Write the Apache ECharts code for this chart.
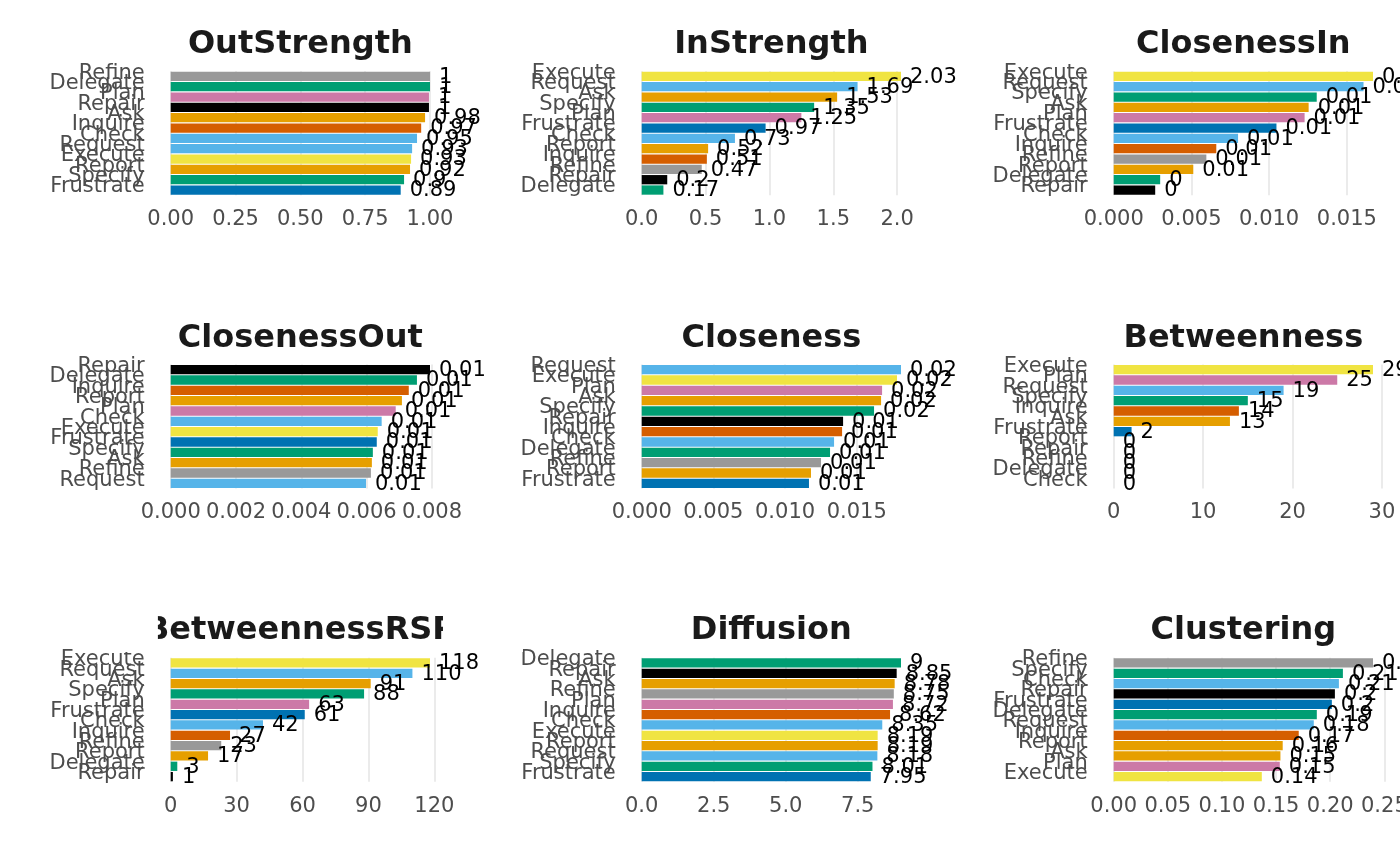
<!DOCTYPE html>
<html>
<head>
<meta charset="utf-8">
<script src="https://cdn.jsdelivr.net/npm/echarts@6/dist/echarts.min.js"></script>
<style>
html,body{margin:0;padding:0;background:#fff;}
#chart{width:1400px;height:866px;}
</style>
</head>
<body>
<div id="chart"></div>
<script>
// ---------- data ----------
const panelTitles = ['OutStrength','InStrength','ClosenessIn','ClosenessOut','Closeness','Betweenness','BetweennessRSP','Diffusion','Clustering'];

const outStrengthCats = ['Refine','Delegate','Plan','Repair','Ask','Inquire','Check','Request','Execute','Report','Specify','Frustrate'];
const outStrengthVals = [1.00,1.00,0.996,0.996,0.981,0.966,0.950,0.931,0.927,0.923,0.900,0.887];

const inStrengthCats = ['Execute','Request','Ask','Specify','Plan','Frustrate','Check','Report','Inquire','Refine','Repair','Delegate'];
const inStrengthVals = [2.03,1.69,1.53,1.35,1.25,0.97,0.73,0.52,0.51,0.47,0.20,0.17];

const closenessInCats = ['Execute','Request','Specify','Ask','Plan','Frustrate','Check','Inquire','Refine','Report','Delegate','Repair'];
const closenessInVals = [0.01668,0.01607,0.01306,0.01254,0.01228,0.01047,0.00800,0.00660,0.00596,0.00512,0.00299,0.00267];

const closenessOutCats = ['Repair','Delegate','Inquire','Report','Plan','Check','Execute','Frustrate','Specify','Ask','Refine','Request'];
const closenessOutVals = [0.00794,0.00754,0.00729,0.00708,0.00689,0.00646,0.00634,0.00631,0.00619,0.00616,0.00613,0.00598];

const closenessCats = ['Request','Execute','Plan','Ask','Specify','Repair','Inquire','Check','Delegate','Refine','Report','Frustrate'];
const closenessVals = [0.01809,0.01781,0.01677,0.01670,0.01621,0.01405,0.01398,0.01342,0.01314,0.01251,0.01181,0.01167];

const betweennessCats = ['Execute','Plan','Request','Specify','Inquire','Ask','Frustrate','Report','Repair','Refine','Delegate','Check'];
const betweennessVals = [29,25,19,15,14,13,2,0,0,0,0,0];

const betweennessRSPCats = ['Execute','Request','Ask','Specify','Plan','Frustrate','Check','Inquire','Refine','Report','Delegate','Repair'];
const betweennessRSPVals = [118,110,91,88,63,61,42,27,23,17,3,1];

const diffusionCats = ['Delegate','Repair','Ask','Refine','Plan','Inquire','Check','Execute','Report','Request','Specify','Frustrate'];
const diffusionVals = [9.00,8.85,8.78,8.75,8.72,8.62,8.35,8.19,8.19,8.18,8.01,7.95];

const clusteringCats = ['Refine','Specify','Check','Repair','Frustrate','Delegate','Request','Inquire','Report','Ask','Plan','Execute'];
const clusteringVals = [0.2395,0.2117,0.2080,0.2043,0.2015,0.1876,0.1848,0.1709,0.1561,0.1540,0.1534,0.1368];

// tick labels (step and decimals per panel)
const tickStep = [0.25, 0.5, 0.005, 0.002, 0.005, 10, 30, 2.5, 0.05];
const tickDecimals = [2, 1, 3, 3, 3, 0, 0, 1, 2];

// ---------- styling ----------
const nodeColors = {
  Refine:'#999999', Delegate:'#009E73', Plan:'#CC79A7', Repair:'#000000',
  Ask:'#E69F00', Inquire:'#D55E00', Check:'#56B4E9', Request:'#56B4E9',
  Execute:'#F0E442', Report:'#E69F00', Specify:'#009E73', Frustrate:'#0072B2'
};
const panelCats = [outStrengthCats,inStrengthCats,closenessInCats,closenessOutCats,closenessCats,betweennessCats,betweennessRSPCats,diffusionCats,clusteringCats];
const panelVals = [outStrengthVals,inStrengthVals,closenessInVals,closenessOutVals,closenessVals,betweennessVals,betweennessRSPVals,diffusionVals,clusteringVals];

const FONT = 'DejaVu Sans';
const colZero = [170.7, 641.7, 1113.7];
const rowTop = [71.2, 364.5, 657.8];
const gridH = 124;
const dataW = 259.3;          // pixel width of the 0..max span in every panel
const panelPad = 12.8;        // ggplot 5% expansion in pixels
const expand = 1.05;          // 5% extension past the data maximum
const titleTop = [24, 318, 610];

const grids = [], xAxes = [], yAxes = [], series = [], titles = [];
for (let i = 0; i < 9; i++) {
  const c = i % 3, r = Math.floor(i / 3);
  grids.push({left: colZero[c], top: rowTop[r], width: dataW * expand, height: gridH,
              containLabel: false, outerBoundsMode: 'none'});
  const dec = tickDecimals[i];
  const axisMax = Number((Math.max.apply(null, panelVals[i]) * expand).toPrecision(6));
  xAxes.push({
    type: 'value', gridIndex: i, min: 0, max: axisMax,
    interval: tickStep[i],
    axisLine: {show: false}, axisTick: {show: false},
    axisLabel: {
      fontFamily: FONT, fontSize: 21, color: '#4D4D4D', margin: 14,
      showMaxLabel: false, hideOverlap: false,
      formatter: function (v) { return v.toFixed(dec); }
    },
    splitLine: {show: true, showMaxLine: false, lineStyle: {color: '#EBEBEB', width: 2}}
  });
  yAxes.push({
    type: 'category', gridIndex: i, inverse: true, data: panelCats[i],
    axisLine: {show: false}, axisTick: {show: false},
    splitLine: {show: false},
    axisLabel: {interval: 0, fontFamily: FONT, fontSize: 21, color: '#4D4D4D', margin: 26,
                verticalAlign: 'bottom', lineHeight: 6}
  });
  series.push({
    type: 'bar', xAxisIndex: i, yAxisIndex: i,
    barCategoryGap: '10%',
    data: panelVals[i].map(function (v, k) {
      return {value: v, itemStyle: {color: nodeColors[panelCats[i][k]]}};
    }),
    label: {
      show: true, position: 'right', distance: 9, offset: [0, 1],
      fontFamily: FONT, fontSize: 21, color: '#000000',
      formatter: function (p) { return String(Number(p.value.toFixed(2))); }
    },
    animation: false, silent: true
  });
  titles.push({
    text: panelTitles[i], left: colZero[c] + dataW / 2 - 5, top: titleTop[r],
    textAlign: 'center',
    textStyle: {fontFamily: FONT, fontSize: 32, fontWeight: 'bold', color: '#1A1A1A'}
  });
}

const chart = echarts.init(document.getElementById('chart'), null, {renderer: 'canvas'});
chart.setOption({
  backgroundColor: '#ffffff',
  animation: false,
  title: titles,
  grid: grids,
  xAxis: xAxes,
  yAxis: yAxes,
  series: series,
  graphic: [
    // clip the overflowing BetweennessRSP title to its panel width (as in the reference)
    {type: 'rect', z: 1000, shape: {x: 90, y: 600, width: colZero[0] - panelPad - 90, height: 52}, style: {fill: '#ffffff'}},
    {type: 'rect', z: 1000, shape: {x: colZero[0] + dataW * expand, y: 600, width: 80, height: 52}, style: {fill: '#ffffff'}}
  ]
});
</script>
</body>
</html>
